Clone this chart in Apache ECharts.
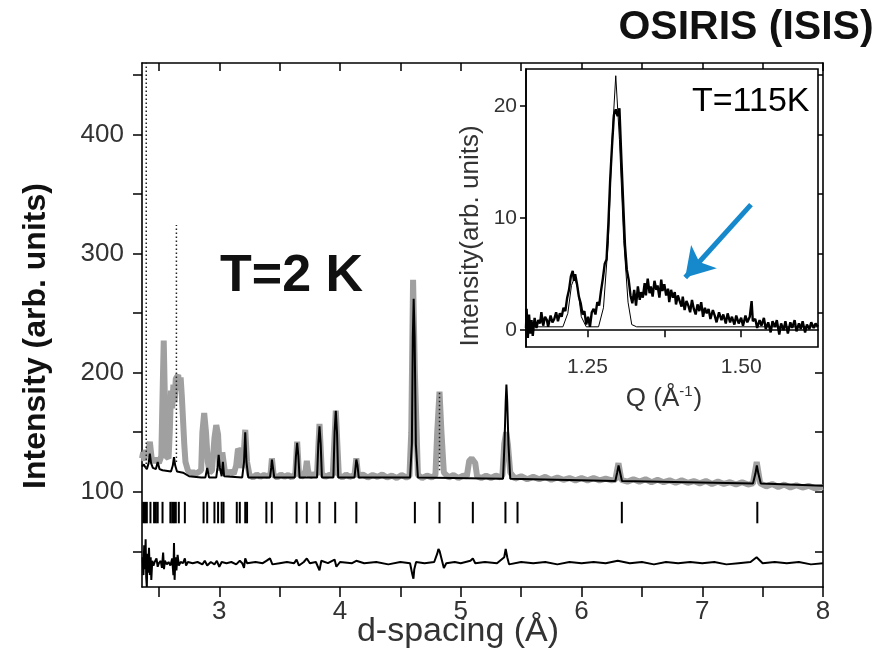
<!DOCTYPE html>
<html>
<head>
<meta charset="utf-8">
<script src="https://cdn.jsdelivr.net/npm/echarts@6/dist/echarts.min.js"></script>
<style>
html,body{margin:0;padding:0;background:#fff;}
#chart{width:892px;height:655px;}
</style>
</head>
<body>
<div id="chart"></div>
<script>
// ---------------- DATA ----------------
// Main pattern: observed (grey), calculated (black), Bragg ticks, difference
const OBS = [
[2.36,128],[2.37,133],[2.38,126],[2.39,135],[2.41,130],[2.425,142],[2.44,128],[2.46,125],[2.48,128],[2.50,124],
[2.52,130],[2.53,180],[2.54,227],[2.55,175],[2.56,130],[2.58,128],[2.59,150],[2.60,185],[2.61,170],[2.62,190],
[2.63,175],[2.64,195],[2.66,198],[2.67,185],[2.68,196],[2.69,180],[2.70,160],[2.71,140],[2.72,125],[2.74,118],
[2.76,115],[2.78,117],[2.80,114.5],[2.82,116],[2.85,118],[2.86,150],[2.875,166],[2.89,150],[2.905,125],[2.92,116],
[2.94,118],[2.95,118],[2.96,145],[2.975,156],[2.99,148],[3.00,125],[3.015,118],[3.025,133],[3.035,133],[3.045,118],
[3.07,115],[3.09,117],[3.12,115],[3.14,122],[3.155,136],[3.17,134],[3.185,120],[3.20,128],[3.215,152],[3.23,125],
[3.25,114],[3.28,112],[3.31,114.5],[3.34,112.5],[3.37,114],[3.40,113],[3.425,115],[3.436,128],[3.45,114],[3.48,112],
[3.51,114.5],[3.54,112.5],[3.57,114],[3.60,112],[3.63,115],[3.645,142],[3.66,115],[3.68,112.5],[3.70,114],[3.715,118],
[3.725,126],[3.735,118],[3.75,113],[3.78,114.5],[3.81,115],[3.83,157],[3.85,115],[3.88,112.5],[3.91,114],[3.94,114],
[3.965,168],[3.99,114],[4.02,112],[4.05,114.5],[4.08,112.5],[4.12,114],[4.135,128],[4.15,113],[4.19,114.5],[4.23,112],
[4.27,114],[4.31,112.5],[4.35,114.5],[4.39,112],[4.43,113.5],[4.47,111.5],[4.51,114],[4.55,112],[4.575,113],[4.59,150],
[4.605,278],[4.62,200],[4.645,114],[4.68,111.5],[4.72,113.5],[4.76,112],[4.79,114],[4.805,150],[4.824,184],[4.84,150],
[4.86,116],[4.90,112],[4.94,114],[4.98,111.5],[5.02,113.5],[5.05,113],[5.07,126],[5.09,128],[5.12,124],[5.135,113],
[5.17,111.5],[5.21,113.5],[5.25,111.5],[5.29,113.5],[5.33,112],[5.345,114],[5.36,140],[5.376,150],[5.39,140],[5.41,116],
[5.45,111],[5.50,113],[5.55,110.5],[5.60,112.5],[5.65,110.5],[5.70,112.5],[5.75,110],[5.80,112],[5.85,110],[5.90,111.5],
[5.95,109.5],[6.00,111.5],[6.05,109.5],[6.10,111.5],[6.15,109.5],[6.20,111],[6.25,109.5],[6.28,110],[6.306,124],[6.33,110],
[6.38,108.5],[6.43,110.5],[6.48,108.5],[6.53,110.5],[6.58,108],[6.63,110],[6.68,108],[6.73,109.5],[6.78,107.5],[6.83,109.5],
[6.88,107.5],[6.93,109],[6.98,107],[7.03,109],[7.08,106.5],[7.13,108.5],[7.18,106.5],[7.23,108],[7.28,106],[7.33,108],
[7.38,106],[7.42,107],[7.451,125],[7.48,107],[7.53,104.5],[7.58,106.5],[7.63,104],[7.68,106],[7.73,103.5],[7.78,105.5],
[7.83,103.5],[7.88,105],[7.93,103],[8.0,104]
];
const CALC = [
[2.36,121],[2.375,123],[2.385,121],[2.40,119],[2.415,124],[2.425,132],[2.435,124],[2.45,120],[2.475,119],[2.49,125],
[2.505,119],[2.53,118],[2.60,117],[2.615,122],[2.625,129],[2.635,122],[2.65,117],[2.70,116],[2.75,113],[2.85,112],
[2.885,112],[2.90,120],[2.915,112],[2.975,112],[2.985,120],[2.995,131],[3.005,120],[3.02,113],[3.03,125],[3.04,113],
[3.19,112],[3.205,125],[3.215,150],[3.225,125],[3.24,112],[3.42,112],[3.43,120],[3.436,127],[3.445,120],[3.455,112],
[3.625,112],[3.635,130],[3.645,141],[3.655,130],[3.665,112],[3.81,112],[3.82,140],[3.83,155],[3.84,140],[3.85,112],
[3.945,112],[3.955,150],[3.965,168],[3.975,150],[3.985,112],[4.12,112],[4.13,122],[4.135,127],[4.145,122],[4.155,112],
[4.58,112],[4.595,140],[4.603,230],[4.61,262],[4.618,230],[4.628,140],[4.645,112],[5.35,111],[5.362,140],[5.372,175],
[5.378,190],[5.385,175],[5.395,140],[5.41,111],[6.28,109],[6.295,116],[6.307,122],[6.32,116],[6.335,109],[7.42,107],
[7.44,115],[7.452,122],[7.465,115],[7.485,107],[8.0,105]
];
// steep observed peaks drawn as dotted spikes: position, base, top
const SPIKE_D    = [2.395, 2.645, 4.824];
const SPIKE_BASE = [120, 125, 118];
const SPIKE_TOP  = [470, 324, 184];
// Bragg reflection positions (d, Å)
const BRAGG_D = [2.37,2.385,2.40,2.43,2.46,2.475,2.49,2.53,2.595,2.61,2.625,2.64,2.665,2.715,2.87,2.90,2.96,2.99,3.02,3.035,
3.145,3.17,3.215,3.23,3.39,3.435,3.64,3.725,3.83,3.96,4.135,4.62,4.824,5.10,5.37,5.47,6.334,7.456];
const DIFF = [
[2.365,45],[2.372,30],[2.378,55],[2.384,35],[2.39,60],[2.395,28],[2.40,20],[2.405,48],[2.41,32],[2.418,53],[2.425,30],
[2.432,45],[2.437,26],[2.445,42],[2.455,38],[2.465,41],[2.48,44],[2.49,37],[2.50,40],[2.515,42],[2.525,36],[2.535,49],
[2.542,35],[2.55,42],[2.565,39],[2.58,41],[2.595,38],[2.61,44],[2.62,30],[2.625,57],[2.63,26],[2.637,45],[2.645,34],
[2.655,47],[2.665,38],[2.68,41],[2.70,40],[2.715,44],[2.725,38],[2.74,41],[2.78,40],[2.82,41],[2.86,39],[2.88,42],
[2.90,38],[2.93,41],[2.96,39],[2.98,42],[3.00,37],[3.02,41],[3.06,40],[3.10,41],[3.14,39],[3.17,42],[3.19,40],
[3.205,36],[3.215,44],[3.23,40],[3.30,41],[3.36,40],[3.39,42],[3.42,44],[3.44,39],[3.50,40],[3.56,41],[3.62,40],
[3.64,43],[3.66,38],[3.70,41],[3.725,44],[3.75,40],[3.80,41],[3.83,34],[3.845,42],[3.90,40],[3.955,43],[3.97,37],
[4.00,41],[4.10,40],[4.135,42],[4.2,40],[4.3,41],[4.4,39],[4.5,41],[4.58,40],[4.60,30],[4.608,27],[4.615,35],
[4.63,41],[4.70,40],[4.78,41],[4.805,48],[4.815,52],[4.825,50],[4.84,44],[4.86,36],[4.88,40],[4.95,41],[5.00,40],
[5.08,42],[5.10,44],[5.12,40],[5.2,41],[5.3,40],[5.36,45],[5.372,52],[5.385,45],[5.40,39],[5.5,41],[5.6,40],
[5.7,41],[5.8,39],[5.9,41],[6.0,40],[6.1,41],[6.2,40],[6.3,42],[6.4,40],[6.5,41],[6.6,39],[6.7,41],[6.8,40],
[6.9,41],[7.0,40],[7.1,41],[7.2,39],[7.3,40],[7.4,41],[7.45,45],[7.5,40],[7.6,41],[7.7,40],[7.8,41],[7.9,39],[8.0,40]
];
// Inset (T = 115 K): data and fitted Bragg peaks vs Q
const INSET_OBS = [
[1.150,0.2],[1.151,1.9],[1.153,-0.7],[1.155,1.4],[1.157,-0.3],[1.159,0.9],[1.161,-0.5],[1.164,1.1],[1.167,0.2],[1.170,0.9],
[1.173,0.6],[1.175,1.6],[1.178,0.4],[1.181,1.2],[1.184,0.9],[1.186,0.3],[1.19,1.3],[1.193,0.7],[1.196,1.0],[1.199,1.6],
[1.202,0.8],[1.205,1.5],[1.208,1.2],[1.211,2.0],[1.214,1.7],[1.217,2.9],[1.220,3.6],[1.223,4.8],[1.226,5.3],[1.228,4.4],
[1.230,5.0],[1.233,4.1],[1.236,3.0],[1.239,2.4],[1.242,1.4],[1.245,1.7],[1.248,0.5],[1.251,1.2],[1.254,0.3],[1.257,1.6],
[1.26,1.9],[1.263,1.4],[1.266,2.5],[1.269,2.2],[1.272,3.5],[1.275,4.6],[1.278,5.9],[1.281,6.3],[1.284,9.5],[1.287,13.5],
[1.290,16.5],[1.293,19.2],[1.296,19.7],[1.299,19.1],[1.302,19.8],[1.305,15.5],[1.308,11.5],[1.311,7.6],[1.314,5.4],[1.317,4.5],
[1.320,3.1],[1.323,2.4],[1.326,3.6],[1.329,2.2],[1.332,3.9],[1.335,2.7],[1.337,3.4],[1.34,2.9],[1.343,4.2],[1.345,3.1],
[1.348,4.6],[1.351,3.3],[1.353,3.9],[1.356,3.0],[1.359,4.4],[1.362,3.6],[1.364,4.0],[1.367,2.9],[1.370,4.5],[1.372,3.5],
[1.375,4.1],[1.378,3.1],[1.381,3.7],[1.383,2.5],[1.386,3.6],[1.389,2.9],[1.392,3.4],[1.394,2.3],[1.397,3.1],[1.40,2.6],
[1.403,2.1],[1.405,3.0],[1.408,1.8],[1.411,2.6],[1.414,2.2],[1.417,1.6],[1.42,2.7],[1.423,1.9],[1.426,1.4],[1.429,2.3],
[1.432,1.7],[1.435,2.5],[1.438,1.2],[1.441,2.0],[1.444,1.5],[1.447,1.9],[1.45,1.0],[1.454,1.8],[1.457,1.3],[1.46,0.7],
[1.464,1.6],[1.468,0.9],[1.471,1.4],[1.475,0.6],[1.478,1.5],[1.482,0.7],[1.485,1.2],[1.489,0.5],[1.492,1.3],[1.496,0.6],
[1.50,1.1],[1.503,0.4],[1.507,1.3],[1.51,0.7],[1.514,1.2],[1.517,2.6],[1.519,0.8],[1.523,1.0],[1.526,0.2],[1.53,0.9],
[1.533,0.4],[1.537,1.1],[1.54,0.1],[1.544,0.7],[1.548,-0.2],[1.551,0.8],[1.555,0.3],[1.558,0.9],[1.562,-0.4],[1.565,0.6],
[1.569,0.0],[1.572,0.8],[1.576,-0.3],[1.58,0.7],[1.583,0.2],[1.587,0.9],[1.59,-0.1],[1.594,0.6],[1.597,0.1],[1.60,0.8],
[1.604,-0.2],[1.607,0.5],[1.611,0.1],[1.614,0.7],[1.618,0.2],[1.621,0.6],[1.625,0.3]
];
const INSET_FIT = [
[1.15,0.3],[1.21,0.3],[1.218,1.5],[1.224,4.0],[1.229,4.7],[1.234,3.8],[1.24,1.2],[1.248,0.3],[1.268,0.3],[1.276,2.0],
[1.284,8],[1.29,17],[1.296,22.7],[1.302,17],[1.309,8],[1.316,2.5],[1.322,0.5],[1.33,0.3],[1.625,0.3]
];
// arrow pointing at the diffuse magnetic signal: [Q, I] start and end
const ARROW_FROM = [1.516, 11.2];
const ARROW_TO   = [1.409, 4.7];

// Axis ticks / labels
const MAIN_X_TICKS  = [2.5,3,3.5,4,4.5,5,5.5,6,6.5,7,7.5,8];
const MAIN_X_LABELS = [3,4,5,6,7,8];
const MAIN_Y_TICKS  = [50,100,150,200,250,300,350,400,450];
const MAIN_Y_LABELS = [100,200,300,400];
const INS_X_TICKS   = [1.25,1.375,1.5];
const INS_X_LABELS  = [1.25,1.5];
const INS_Y_TICKS   = [0,10,20];
const INS_Y_LABELS  = [0,10,20];

// Bragg tick row extent (intensity units)
const TICK_LOW = 73.5, TICK_HIGH = 91.5;

// ---------------- CHART ----------------
const FONT = '"Liberation Sans", Arial, Helvetica, sans-serif';
const chart = echarts.init(document.getElementById('chart'), null, {renderer:'canvas'});

const axLine = {show:true, lineStyle:{color:'#000', width:1.6}};
function mkX(grid, pos, min, max, ticks, labels, inside, tlen, lblOpts){
  return {
    type:'value', gridIndex:grid, position:pos, min:min, max:max,
    axisLine:axLine, splitLine:{show:false},
    axisTick:{show:true, customValues:ticks, inside:inside, length:tlen, lineStyle:{color:'#000', width:1.5}},
    axisLabel: labels ? Object.assign({show:true, customValues:labels, color:'#333', fontFamily:FONT}, lblOpts) : {show:false}
  };
}

const spikeSeries = SPIKE_D.map((d,i)=>({
  type:'line', xAxisIndex:0, yAxisIndex:0, silent:true, symbol:'none', z:4,
  data:[[d, SPIKE_BASE[i]],[d, SPIKE_TOP[i]]],
  lineStyle:{color:'#222', width:1.5, type:[1.5,2.5]}
}));

const option = {
  animation:false,
  backgroundColor:'#fff',
  grid:[
    {left:142, top:63, right:69, bottom:68, containLabel:false},
    {left:526, top:69, right:74, bottom:308, show:true, backgroundColor:'#fff', borderColor:'#000', borderWidth:1.6, z:5}
  ],
  xAxis:[
    mkX(0,'bottom',2.36,8,MAIN_X_TICKS,MAIN_X_LABELS,false,10,{fontSize:26, margin:12}),
    mkX(0,'top',2.36,8,MAIN_X_TICKS,null,true,8),
    Object.assign(mkX(1,'bottom',1.15,1.625,INS_X_TICKS,INS_X_LABELS,false,7,{fontSize:21, margin:10, formatter:v=>v.toFixed(2)}),{z:6})
  ],
  yAxis:[
    mkX(0,'left',20,460,MAIN_Y_TICKS,MAIN_Y_LABELS,false,9,{fontSize:26, margin:18}),
    mkX(0,'right',20,460,MAIN_Y_TICKS,null,true,8),
    Object.assign(mkX(1,'left',-1.5,23.3,INS_Y_TICKS,INS_Y_LABELS,false,6,{fontSize:21, margin:9}),{z:6})
  ],
  series:[
    {type:'line', name:'observed', xAxisIndex:0, yAxisIndex:0, data:OBS, symbol:'none', silent:true, z:2,
     lineStyle:{color:'#a0a0a0', width:6}},
    ...spikeSeries,
    {type:'line', name:'calculated', xAxisIndex:0, yAxisIndex:0, data:CALC, symbol:'none', silent:true, z:3,
     lineStyle:{color:'#000', width:2}},
    {type:'custom', name:'Bragg', xAxisIndex:0, yAxisIndex:0, silent:true, z:3,
     data:BRAGG_D.map(d=>[d, TICK_LOW, TICK_HIGH]),
     encode:{x:0, y:[1,2]},
     renderItem:function(params, api){
       const p1 = api.coord([api.value(0), api.value(1)]);
       const p2 = api.coord([api.value(0), api.value(2)]);
       return {type:'line', shape:{x1:p1[0], y1:p1[1], x2:p2[0], y2:p2[1]}, style:{stroke:'#000', lineWidth:2}};
     }},
    {type:'line', name:'difference', xAxisIndex:0, yAxisIndex:0, data:DIFF, symbol:'none', silent:true, z:3,
     lineStyle:{color:'#000', width:2}},
    {type:'line', name:'inset fit', xAxisIndex:2, yAxisIndex:2, data:INSET_FIT, symbol:'none', silent:true, z:7,
     lineStyle:{color:'#000', width:1}},
    {type:'line', name:'inset data', xAxisIndex:2, yAxisIndex:2, data:INSET_OBS, symbol:'none', silent:true, z:7,
     lineStyle:{color:'#000', width:2.4},
     markLine:{silent:true, symbol:['none','arrow'], symbolSize:[26,28], label:{show:false},
       lineStyle:{color:'#1589cc', width:5, type:'solid'}, emphasis:{disabled:true},
       data:[[{coord:ARROW_FROM},{coord:ARROW_TO}]]}}
  ],
  graphic:[
    {type:'text', z:10, x:746, y:28, style:{text:'OSIRIS (ISIS)', font:'bold 41px '+FONT, fill:'#111', textAlign:'center', textVerticalAlign:'middle'}},
    {type:'text', z:10, x:220, y:277, style:{text:'T=2 K', font:'bold 52px '+FONT, fill:'#111', textAlign:'left', textVerticalAlign:'middle'}},
    {type:'text', z:10, x:692, y:102, style:{text:'T=115K', font:'34px '+FONT, fill:'#000', textAlign:'left', textVerticalAlign:'middle'}},
    {type:'text', z:10, x:36, y:336, rotation:Math.PI/2, style:{text:'Intensity (arb. units)', font:'bold 32px '+FONT, fill:'#111', textAlign:'center', textVerticalAlign:'middle'}},
    {type:'text', z:10, x:458, y:632, style:{text:'d-spacing (Å)', font:'34px '+FONT, fill:'#333', textAlign:'center', textVerticalAlign:'middle'}},
    {type:'text', z:10, x:471, y:236, rotation:Math.PI/2, style:{text:'Intensity(arb. units)', font:'26px '+FONT, fill:'#333', textAlign:'center', textVerticalAlign:'middle'}},
    {type:'text', z:10, x:664, y:399, style:{text:'Q (Å{sup|-1})', font:'26px '+FONT, fill:'#333', textAlign:'center', textVerticalAlign:'middle',
      rich:{sup:{font:'15px '+FONT, fill:'#333', verticalAlign:'top', padding:[0,1,14,0]}}}}
  ]
};
chart.setOption(option);
</script>
</body>
</html>
